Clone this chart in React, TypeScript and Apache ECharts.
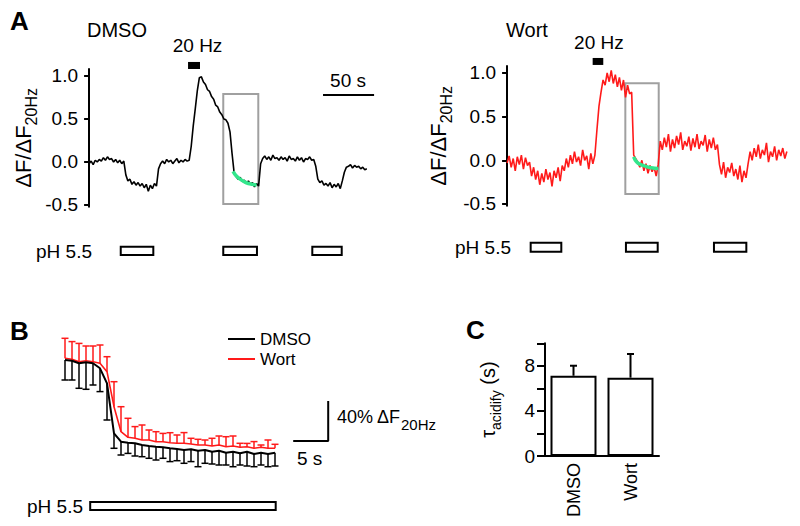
import React, { useEffect, useRef } from 'react';
import * as echarts from 'echarts';

const FONT = '"Liberation Sans", Arial, Helvetica, sans-serif';

// ---------- Panel A: example traces (sampled every 2 s) ----------
const traceStep = 2;
const dmsoTrace = [
  -0.02, 0.01, -0.03, 0.02, 0.0, 0.03, 0.01, 0.05, 0.02, 0.06,
  0.03, 0.04, 0.0, 0.03, -0.01, 0.02, -0.02, 0.01, -0.15, -0.22,
  -0.2, -0.26, -0.23, -0.27, -0.24, -0.28, -0.25, -0.3, -0.26, -0.34,
  -0.27, -0.31, -0.25, -0.28, -0.08, -0.02, 0.01, -0.02, 0.03, 0.0,
  0.02, -0.02, 0.01, 0.04, -0.01, 0.02, 0.0, 0.03, 0.01, 0.02,
  0.18, 0.42, 0.62, 0.83, 0.98, 0.99, 0.93, 0.9, 0.84, 0.82,
  0.76, 0.73, 0.66, 0.64, 0.58, 0.55, 0.5, 0.49, 0.45, 0.35,
  0.1, -0.12, -0.17, -0.2, -0.18, -0.23, -0.21, -0.25, -0.22, -0.26,
  -0.24, -0.29, -0.25, -0.28, -0.02, 0.04, 0.07, 0.03, 0.06, 0.02,
  0.08, 0.04, 0.05, 0.02, 0.06, 0.03, 0.05, 0.01, 0.07, 0.03,
  0.04, 0.01, 0.06, 0.02, 0.05, 0.0, 0.04, 0.03, 0.06, 0.02,
  0.03, -0.05, -0.2, -0.24, -0.22, -0.27, -0.25, -0.28, -0.24, -0.3,
  -0.26, -0.29, -0.25, -0.31, -0.22, -0.12, -0.06, -0.05, -0.03, -0.07,
  -0.04, -0.06, -0.05, -0.08, -0.06, -0.09, -0.08,
];
const wortTrace = [
  -0.03, 0.05, -0.08, 0.02, -0.12, 0.04, -0.05, 0.06, -0.1, 0.03,
  -0.06, -0.02, -0.18, -0.08, -0.22, -0.12, -0.28, -0.15, -0.25, -0.1,
  -0.22, -0.14, -0.3, -0.12, -0.2, -0.08, -0.24, -0.06, -0.12, 0.02,
  -0.08, 0.06, -0.04, 0.1, -0.02, 0.04, -0.06, 0.12, 0.0, 0.05,
  -0.1, 0.08, -0.04, 0.06, 0.35, 0.62, 0.78, 0.92, 0.86, 1.0,
  0.9, 1.03, 0.88, 0.98, 0.84, 0.95, 0.8, 0.92, 0.72, 0.86,
  0.76, 0.78, 0.06, 0.02, -0.02, -0.08, 0.0, -0.12, -0.04, -0.15,
  -0.06, -0.13, -0.08, -0.18, -0.05, 0.22, 0.12, 0.26, 0.15, 0.3,
  0.1, 0.24, 0.14, 0.28, 0.18, 0.32, 0.12, 0.22, 0.16, 0.27,
  0.11, 0.25, 0.15, 0.3, 0.13, 0.22, 0.17, 0.29, 0.1, 0.24,
  0.14, 0.26, 0.12, 0.18, -0.05, -0.16, -0.02, -0.2, -0.08, -0.14,
  -0.03, -0.18, -0.1, -0.22, -0.06, -0.25, -0.12, -0.2, -0.04, 0.1,
  0.0, 0.14, 0.04, 0.18, 0.02, 0.12, 0.06, 0.2, -0.02, 0.1,
  0.04, 0.16, 0.0, 0.12, 0.05, 0.14, 0.02, 0.1,
];
// exponential fits (green)
const dmsoFitT = [141, 144, 148, 152, 156, 160, 164];
const dmsoFitV = [-0.11, -0.16, -0.2, -0.23, -0.25, -0.26, -0.27];
const wortFitT = [124, 127, 131, 136, 141, 148];
const wortFitV = [0.04, -0.02, -0.05, -0.07, -0.085, -0.095];
// pH 5.5 application windows (s)
const dmsoPH = [[31.0, 62.9], [131.4, 164.4], [218.6, 247.4]];
const wortPH = [[23.1, 53.1], [116.4, 147.5], [202.6, 234.3]];
// 20 Hz stimulus windows (s)
const dmsoStim = [96.9, 108.6];
const wortStim = [83.8, 94.2];
// boxed region (s, ΔF/ΔF20Hz)
const dmsoBox = [131.4, 165.7, -0.49, 0.79];
const wortBox = [115.8, 148.5, -0.386, 0.882];
const aTicks = [-0.5, 0, 0.5, 1.0];
const scaleBarA = 50; // s

// ---------- Panel B: averaged traces ----------
const bTimes = [0, 1, 2, 3, 4, 5, 6, 7, 8, 9, 10, 11, 12, 13, 14, 15, 16, 17, 18, 19, 20, 21, 22, 23, 24, 25, 26, 27, 28, 29, 30];
const bDmsoMean = [110, 109.3, 106.7, 107.7, 106.7, 101.7, 86.7, 36.7, 28.3, 27.3, 26.7, 25, 24, 23.3, 22.7, 21.7, 21, 20, 20.7, 19.3, 20, 18.3, 19.3, 17.3, 18.3, 16.7, 18.3, 16, 17.3, 16, 17.3];
const bDmsoSem = [20, 19.3, 25, 27, 21.7, 23.3, 36.7, 15, 13.3, 10.7, 12.7, 11.7, 12.3, 13.3, 11, 13.3, 11.7, 13.3, 12.3, 16, 13.3, 12.3, 14.3, 12.3, 15, 11.7, 14.3, 12.7, 12.3, 12.7, 13.3];
const bWortMean = [111.7, 110.7, 108.3, 109.3, 108.3, 106.7, 98.3, 63.3, 38.3, 32.7, 31.7, 30, 30, 28.3, 28.3, 27.3, 26.7, 26.7, 26, 25, 25, 24, 25, 23.3, 24, 22.7, 23.3, 21.7, 22.7, 21.7, 21.7];
const bWortSem = [20, 17.7, 18.3, 14.7, 15.7, 18.3, 15, 25, 25, 19, 11.7, 15, 10, 10, 8.3, 10, 8.3, 10.7, 5.7, 5.7, 5, 7.7, 9, 10, 10, 4, 3.3, 6.7, 2.3, 8.3, 4];
const bPH = [3.6, 30.1];
const bScaleT = 5; // s
const bScaleY = 40; // % ΔF20Hz

// ---------- Panel C: time constants ----------
const cCategories = ['DMSO', 'Wort'];
const cTau = [7.12, 6.95];
const cTauErr = [0.89, 2.1];

const BLACK = '#000000';
const RED = '#ff1a1a';
const GREEN = '#33e68c';
const GRAY = '#a0a0a0';

function rectSeries(xi: number, items: number[][], style: any, z = 5) {
  return {
    type: 'custom',
    xAxisIndex: xi,
    yAxisIndex: xi,
    clip: false,
    silent: true,
    z,
    data: items,
    encode: { x: [0, 1], y: [2, 3] },
    renderItem: (params: any, api: any) => {
      const a = api.coord([api.value(0), api.value(2)]);
      const b = api.coord([api.value(1), api.value(3)]);
      return {
        type: 'rect',
        shape: {
          x: Math.min(a[0], b[0]),
          y: Math.min(a[1], b[1]),
          width: Math.abs(b[0] - a[0]),
          height: Math.abs(b[1] - a[1]),
        },
        style: { ...style },
      };
    },
  };
}

function textSeries(xi: number, pts: number[][], labels: string[], fontSize = 19) {
  return {
    type: 'custom',
    xAxisIndex: xi,
    yAxisIndex: xi,
    clip: false,
    silent: true,
    data: pts,
    encode: { x: 0, y: 1 },
    renderItem: (params: any, api: any) => {
      const p = api.coord([api.value(0), api.value(1)]);
      return {
        type: 'text',
        x: p[0],
        y: p[1],
        style: {
          text: labels[params.dataIndex],
          fill: BLACK,
          fontSize,
          fontFamily: FONT,
          align: 'center',
          verticalAlign: 'middle',
        },
      };
    },
  };
}

function errSeries(xi: number, pts: number[][], color: string, dir: number, cap: number, width: number, z = 2) {
  return {
    type: 'custom',
    xAxisIndex: xi,
    yAxisIndex: xi,
    clip: false,
    silent: true,
    z,
    data: pts,
    encode: { x: 0, y: 1 },
    renderItem: (params: any, api: any) => {
      const x = api.value(0);
      const m = api.value(1);
      const e = api.value(2);
      const p0 = api.coord([x, m]);
      const p1 = api.coord([x, m + dir * e]);
      const st = { stroke: color, lineWidth: width };
      return {
        type: 'group',
        children: [
          { type: 'line', shape: { x1: p0[0], y1: p0[1], x2: p1[0], y2: p1[1] }, style: st },
          { type: 'line', shape: { x1: p1[0] - cap / 2, y1: p1[1], x2: p1[0] + cap / 2, y2: p1[1] }, style: st },
        ],
      };
    },
  };
}

const yNameRich = {
  m: { fontSize: 22, lineHeight: 27, verticalAlign: 'top', fontFamily: FONT, color: BLACK },
  s: { fontSize: 16, lineHeight: 17, verticalAlign: 'bottom', fontFamily: FONT, color: BLACK },
};

function aYAxis(gi: number, gap: number) {
  return {
    gridIndex: gi,
    type: 'value',
    min: -0.52,
    max: 1.08,
    axisLine: { show: true, lineStyle: { color: BLACK, width: 2 } },
    axisTick: { show: true, length: 5, lineStyle: { color: BLACK, width: 2 }, customValues: aTicks },
    axisLabel: {
      customValues: aTicks,
      formatter: (v: number) => Number(v).toFixed(1),
      fontSize: 19,
      color: BLACK,
      margin: 7,
      fontFamily: FONT,
    },
    splitLine: { show: false },
    name: '{m|ΔF/ΔF}{s|20Hz}',
    nameLocation: 'middle',
    nameGap: gap,
    nameTextStyle: { rich: yNameRich },
  };
}

function buildOption() {
  const dmsoData = dmsoTrace.map((v, i) => [i * traceStep, v]);
  const wortData = wortTrace.map((v, i) => [i * traceStep, v]);
  const dmsoFit = dmsoFitT.map((t, i) => [t, dmsoFitV[i]]);
  const wortFit = wortFitT.map((t, i) => [t, wortFitV[i]]);

  const phStyle = { fill: '#fff', stroke: BLACK, lineWidth: 2 };
  const boxStyle = { fill: 'none', stroke: GRAY, lineWidth: 2 };
  const stimStyle = { fill: BLACK, stroke: BLACK, lineWidth: 0 };

  const series: any[] = [
    // Panel A left
    { type: 'line', name: 'dmsoTrace', xAxisIndex: 0, yAxisIndex: 0, data: dmsoData, showSymbol: false, clip: false, lineStyle: { color: BLACK, width: 1.6 }, color: BLACK, z: 3 },
    { type: 'line', name: 'dmsoFit', xAxisIndex: 0, yAxisIndex: 0, data: dmsoFit, showSymbol: false, smooth: true, lineStyle: { color: GREEN, width: 3.5 }, color: GREEN, z: 4 },
    rectSeries(0, [dmsoBox], boxStyle, 2),
    rectSeries(0, [[dmsoStim[0], dmsoStim[1], 1.081, 1.163]], stimStyle),
    rectSeries(0, dmsoPH.map((p) => [p[0], p[1], -0.985, -1.081]), phStyle),
    textSeries(0, [[106.2, 1.36], [253.6, 0.953]], ['20 Hz', `${scaleBarA} s`]),
    { type: 'line', name: 'scaleA', xAxisIndex: 0, yAxisIndex: 0, data: [[229.1, 0.779], [229.1 + scaleBarA, 0.779]], showSymbol: false, clip: false, lineStyle: { color: BLACK, width: 2 }, color: BLACK },
    // Panel A right
    { type: 'line', name: 'wortTrace', xAxisIndex: 1, yAxisIndex: 1, data: wortData, showSymbol: false, clip: false, lineStyle: { color: RED, width: 1.6 }, color: RED, z: 3 },
    { type: 'line', name: 'wortFit', xAxisIndex: 1, yAxisIndex: 1, data: wortFit, showSymbol: false, smooth: true, lineStyle: { color: GREEN, width: 3.5 }, color: GREEN, z: 4 },
    rectSeries(1, [wortBox], boxStyle, 2),
    rectSeries(1, [[wortStim[0], wortStim[1], 1.092, 1.172]], stimStyle),
    rectSeries(1, wortPH.map((p) => [p[0], p[1], -0.944, -1.047]), phStyle),
    textSeries(1, [[89.9, 1.344]], ['20 Hz']),
    // Panel B
    errSeries(2, bTimes.map((t, i) => [t, bWortMean[i], bWortSem[i]]), RED, 1, 7, 1.5, 2),
    { type: 'line', name: 'Wort', xAxisIndex: 2, yAxisIndex: 2, data: bTimes.map((t, i) => [t, bWortMean[i]]), showSymbol: false, lineStyle: { color: RED, width: 1.6 }, color: RED, z: 3 },
    errSeries(2, bTimes.map((t, i) => [t, bDmsoMean[i], bDmsoSem[i]]), BLACK, -1, 7, 1.5, 4),
    { type: 'line', name: 'DMSO', xAxisIndex: 2, yAxisIndex: 2, data: bTimes.map((t, i) => [t, bDmsoMean[i]]), showSymbol: false, lineStyle: { color: BLACK, width: 2 }, color: BLACK, z: 5 },
    rectSeries(2, [[bPH[0], bPH[1], -32, -40]], phStyle),
    { type: 'line', name: 'scaleB', xAxisIndex: 2, yAxisIndex: 2, data: [[37.6, 29 + bScaleY], [37.6, 29], [37.6 - bScaleT, 29]], showSymbol: false, clip: false, lineStyle: { color: BLACK, width: 2 }, color: BLACK },
    // Panel C
    { type: 'bar', name: 'tau', xAxisIndex: 3, yAxisIndex: 3, data: cTau, barWidth: 46, itemStyle: { color: '#fff', borderColor: BLACK, borderWidth: 2 }, z: 2 },
    errSeries(3, cTau.map((v, i) => [i, v, cTauErr[i]]), BLACK, 1, 7, 2, 3),
  ];

  return {
    animation: false,
    backgroundColor: '#ffffff',
    textStyle: { fontFamily: FONT, color: BLACK },
    grid: [
      { left: 85, top: 69.1, width: 290, height: 137.6, outerBoundsMode: 'none' },
      { left: 503, top: 66, width: 290, height: 139.7, outerBoundsMode: 'none' },
      { left: 65, top: 330, width: 280, height: 140, outerBoundsMode: 'none' },
      { left: 545, top: 343.3, width: 114, height: 112.7, outerBoundsMode: 'none' },
    ],
    xAxis: [
      { gridIndex: 0, type: 'value', min: -4, max: 280, show: false },
      { gridIndex: 1, type: 'value', min: -4, max: 280, show: false },
      { gridIndex: 2, type: 'value', min: 0, max: 40, show: false },
      {
        gridIndex: 3,
        type: 'category',
        data: cCategories,
        axisLine: { show: true, lineStyle: { color: BLACK, width: 2 } },
        axisTick: { show: false },
        axisLabel: { rotate: 90, fontSize: 18, color: BLACK, margin: 7, fontFamily: FONT },
      },
    ],
    yAxis: [
      aYAxis(0, 46),
      aYAxis(1, 49),
      { gridIndex: 2, type: 'value', min: 0, max: 140, show: false },
      {
        gridIndex: 3,
        type: 'value',
        min: 0,
        max: 10,
        interval: 2,
        axisLine: { show: true, lineStyle: { color: BLACK, width: 2 } },
        axisTick: { show: true, length: 8, lineStyle: { color: BLACK, width: 2 } },
        axisLabel: {
          formatter: (v: number) => (v % 4 === 0 && v < 10 ? String(v) : ''),
          fontSize: 19,
          color: BLACK,
          margin: 10,
          fontFamily: FONT,
        },
        splitLine: { show: false },
        name: '{m|τ}{s|acidify}{m| (s)}',
        nameLocation: 'middle',
        nameGap: 42,
        nameTextStyle: {
          rich: {
            m: { fontSize: 20, lineHeight: 25, verticalAlign: 'top', fontFamily: FONT, color: BLACK },
            s: { fontSize: 14, lineHeight: 15, verticalAlign: 'bottom', fontFamily: FONT, color: BLACK },
          },
        },
      },
    ],
    legend: {
      data: ['DMSO', 'Wort'],
      orient: 'vertical',
      left: 223,
      top: 324,
      icon: 'rect',
      itemWidth: 27,
      itemHeight: 2,
      itemGap: 0,
      selectedMode: false,
      textStyle: { fontSize: 17, lineHeight: 20, color: BLACK, fontFamily: FONT },
    },
    graphic: [
      { type: 'text', x: 10, y: 21, style: { text: 'A', fill: BLACK, fontSize: 26, fontWeight: 'bold', fontFamily: FONT, align: 'left', verticalAlign: 'middle' } },
      { type: 'text', x: 87, y: 30, style: { text: 'DMSO', fill: BLACK, fontSize: 20, fontFamily: FONT, align: 'left', verticalAlign: 'middle' } },
      { type: 'text', x: 506, y: 30, style: { text: 'Wort', fill: BLACK, fontSize: 20, fontFamily: FONT, align: 'left', verticalAlign: 'middle' } },
      { type: 'text', x: 36, y: 251, style: { text: 'pH 5.5', fill: BLACK, fontSize: 19, fontFamily: FONT, align: 'left', verticalAlign: 'middle' } },
      { type: 'text', x: 455, y: 247, style: { text: 'pH 5.5', fill: BLACK, fontSize: 19, fontFamily: FONT, align: 'left', verticalAlign: 'middle' } },
      { type: 'text', x: 10, y: 331, style: { text: 'B', fill: BLACK, fontSize: 26, fontWeight: 'bold', fontFamily: FONT, align: 'left', verticalAlign: 'middle' } },
      { type: 'text', x: 466, y: 330, style: { text: 'C', fill: BLACK, fontSize: 26, fontWeight: 'bold', fontFamily: FONT, align: 'left', verticalAlign: 'middle' } },
      { type: 'text', x: 27, y: 506, style: { text: 'pH 5.5', fill: BLACK, fontSize: 19, fontFamily: FONT, align: 'left', verticalAlign: 'middle' } },
      { type: 'text', x: 297, y: 458, style: { text: `${bScaleT} s`, fill: BLACK, fontSize: 19, fontFamily: FONT, align: 'left', verticalAlign: 'middle' } },
      {
        type: 'text',
        x: 337,
        y: 420,
        style: {
          text: `{m|${bScaleY}% ΔF}{s|20Hz}`,
          fill: BLACK,
          align: 'left',
          verticalAlign: 'middle',
          rich: {
            m: { fontSize: 18, lineHeight: 24, verticalAlign: 'top', fontFamily: FONT, fill: BLACK },
            s: { fontSize: 15, lineHeight: 15, verticalAlign: 'bottom', fontFamily: FONT, fill: BLACK },
          },
        },
      },
    ],
    series,
  };
}

export default function App() {
  const ref = useRef<HTMLDivElement>(null);
  useEffect(() => {
    if (!ref.current) return;
    const chart = echarts.init(ref.current, null, { renderer: 'svg' });
    chart.setOption(buildOption() as any);
    return () => chart.dispose();
  }, []);
  return (
    <div
      ref={ref}
      style={{ position: 'fixed', left: 0, top: 0, width: 800, height: 526, background: '#fff' }}
    />
  );
}
